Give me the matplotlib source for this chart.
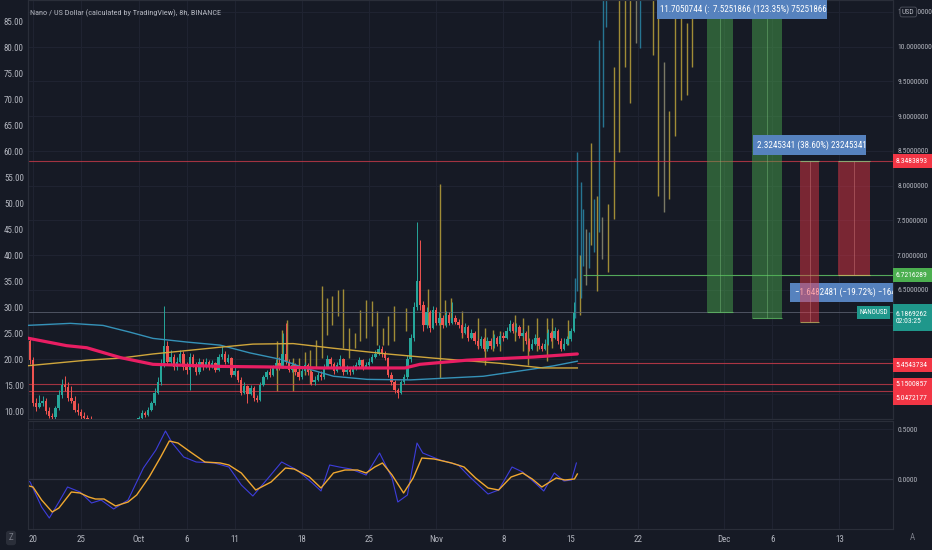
import numpy as np
import matplotlib
matplotlib.use('Agg')
import matplotlib.pyplot as plt
from matplotlib import font_manager
from matplotlib.font_manager import FontProperties
from matplotlib.patches import Rectangle

names = {f.name for f in font_manager.fontManager.ttflist}
main_font = 'DejaVu Sans'
for cand in ['Liberation Sans Narrow', 'Roboto Condensed', 'Open Sans Condensed', 'Liberation Sans']:
    if cand in names:
        main_font = cand
        break
plt.rcParams['font.family'] = [main_font, 'DejaVu Sans']

bg = '#161a25'
txt = '#b2b5be'
gridc = '#1f2331'
up = '#26a69a'
down = '#ef5350'

# 8h candles, left price scale (days counted from Sep 20)
first_day = -0.67
open0 = 21.5
closes = [23.5, 19.8, 11.5, 10.8, 11.5, 11.9, 10.0, 9.0, 8.8, 10.5,
          13.0, 15.0, 14.6, 12.5, 12.0, 10.2, 9.8, 9.0, 8.6, 8.0,
          7.8, 7.2, 7.5, 6.9, 7.1, 6.6, 6.8, 7.3, 7.0, 6.5,
          6.8, 7.2, 7.6, 7.4, 8.0, 8.6, 9.6, 9.2, 10.2, 11.5,
          13.5, 15.5, 19.0, 22.5, 19.5, 20.5, 18.5, 19.5, 21.0, 18.5,
          18.0, 20.5, 19.0, 17.5, 19.5, 18.5, 19.5, 18.5, 19.2, 18.0,
          20.5, 21.0, 19.5, 20.2, 17.0, 17.8, 16.0, 13.5, 14.8, 13.2,
          14.5, 12.5, 12.2, 15.0, 16.5, 17.5, 17.0, 18.2, 19.2, 18.5,
          21.0, 19.5, 18.0, 18.8, 17.5, 16.5, 17.8, 18.8, 17.5, 15.5,
          16.0, 17.0, 16.5, 18.5, 20.0, 19.0, 17.8, 18.8, 20.0, 17.5,
          18.0, 17.5, 18.2, 18.8, 19.8, 18.5, 18.8, 19.5, 20.5, 21.0,
          22.0, 21.0, 20.2, 17.0, 15.5, 14.0, 13.5, 15.5, 16.5, 20.0,
          24.0, 30.0, 35.0, 30.5, 26.5, 29.0, 26.0, 29.5, 27.0, 28.0,
          26.5, 28.5, 27.0, 28.0, 27.2, 26.5, 25.0, 26.2, 24.0, 25.0,
          23.5, 22.5, 23.8, 22.0, 23.5, 22.5, 24.0, 23.0, 24.5, 24.0,
          25.5, 26.8, 25.5, 26.2, 24.5, 25.0, 23.5, 22.0, 23.0, 24.0,
          22.5, 22.0, 23.0, 25.0, 24.0, 25.5, 23.5, 22.0, 23.0, 23.8,
          25.5, 28.8]
highs = [24.5, 24.0, 20.5, 12.5, 13.0, 12.8, 12.5, 10.8, 9.6, 11.0,
         14.0, 16.2, 16.8, 15.5, 14.8, 12.8, 11.5, 10.4, 9.8, 9.2,
         9.0, 8.2, 8.0, 7.8, 7.6, 7.4, 7.2, 7.8, 7.6, 7.3,
         7.1, 7.6, 8.0, 8.1, 8.5, 9.0, 10.2, 10.0, 10.8, 12.0,
         14.5, 16.5, 20.0, 30.2, 23.5, 21.8, 21.0, 20.5, 21.8, 21.5,
         19.5, 21.2, 21.0, 19.5, 20.2, 20.0, 20.2, 19.8, 19.8, 19.5,
         21.0, 22.5, 21.5, 21.0, 20.5, 18.5, 18.0, 16.5, 15.5, 15.0,
         15.0, 14.8, 13.0, 15.5, 17.0, 18.0, 18.2, 18.8, 20.0, 20.5,
         25.0, 27.0, 20.0, 19.5, 19.2, 18.0, 18.2, 19.5, 19.2, 18.0,
         16.8, 17.5, 17.8, 19.0, 20.8, 20.5, 19.5, 19.5, 20.8, 20.2,
         18.8, 18.5, 18.8, 19.5, 20.5, 20.0, 19.5, 20.2, 21.0, 21.8,
         22.8, 22.5, 21.5, 20.5, 17.5, 16.0, 14.5, 16.0, 17.2, 20.8,
         24.8, 31.0, 46.5, 43.0, 31.2, 30.0, 29.5, 30.2, 30.0, 29.0,
         28.5, 29.2, 29.0, 31.0, 28.5, 27.8, 27.0, 27.0, 26.5, 25.8,
         25.5, 24.0, 24.5, 24.2, 24.2, 24.0, 24.8, 24.5, 25.0, 25.2,
         26.2, 27.5, 27.2, 27.0, 26.5, 25.8, 25.5, 24.0, 23.8, 24.8,
         24.2, 23.2, 23.8, 25.8, 25.5, 26.2, 25.8, 24.0, 24.0, 24.5,
         26.0, 31.0]
lows = [21.0, 19.0, 11.0, 10.0, 10.5, 11.0, 9.5, 8.6, 8.2, 8.5,
        10.2, 12.6, 13.8, 12.0, 11.5, 9.8, 9.2, 8.5, 8.0, 7.5,
        7.3, 6.8, 6.9, 6.5, 6.5, 6.2, 6.3, 6.6, 6.7, 6.2,
        6.3, 6.6, 7.0, 7.1, 7.2, 7.8, 8.4, 8.8, 9.0, 10.0,
        11.2, 13.2, 15.0, 18.5, 18.8, 19.0, 18.0, 18.0, 19.2, 18.0,
        17.2, 14.0, 18.5, 17.0, 17.2, 18.0, 18.2, 18.0, 18.2, 17.5,
        17.8, 20.0, 19.0, 19.2, 16.5, 16.8, 15.5, 13.0, 13.2, 11.5,
        13.0, 12.0, 11.8, 12.0, 14.8, 16.2, 16.5, 16.8, 18.0, 18.0,
        18.2, 19.0, 17.5, 17.5, 17.0, 16.0, 16.2, 17.5, 17.0, 15.0,
        15.0, 15.8, 16.0, 16.2, 18.2, 18.5, 17.2, 17.5, 18.5, 17.0,
        17.2, 17.0, 17.2, 18.0, 18.5, 18.0, 18.2, 18.5, 19.2, 20.2,
        20.8, 20.5, 19.8, 16.5, 15.0, 13.5, 12.5, 13.2, 15.2, 16.2,
        19.5, 23.5, 29.5, 29.5, 25.5, 26.0, 25.2, 25.8, 26.5, 26.5,
        26.0, 26.2, 26.5, 26.8, 26.8, 26.0, 24.5, 24.8, 23.5, 23.8,
        23.0, 22.0, 22.2, 21.5, 21.5, 22.0, 22.2, 22.5, 22.8, 23.5,
        23.8, 25.2, 25.0, 25.2, 24.0, 24.2, 23.0, 21.5, 21.8, 22.8,
        22.0, 21.5, 21.8, 22.8, 23.5, 23.8, 23.0, 21.5, 21.8, 22.8,
        23.5, 25.2]

# overlay bars on the right scale
ov_day = [25.4, 25.9, 26.5, 27.1, 27.7, 28.3, 28.9, 29.5, 30.1, 30.6,
          31.1, 31.8, 32.3, 32.9, 33.5, 34.1, 34.7, 35.3, 35.8, 36.5,
          37.0, 37.6, 38.9, 41.1, 42.4, 42.9, 43.5, 44.7, 46.4, 47.1,
          47.9, 48.6, 50.2, 51.0, 51.6, 52.5, 53.5, 54.1, 55.7,
          56.5, 56.7, 57.0, 57.1, 57.3, 57.6, 57.9, 58.1, 58.4, 58.75,
          59.0, 59.3, 59.4, 59.7, 59.9, 60.5, 61.0, 61.7, 62.2, 62.8,
          63.2, 64.6, 65.1, 65.7, 66.25, 66.9, 67.5, 68.1, 68.6]
ov_lo = [5.05, 5.38, 5.48, 5.05, 5.27, 5.28, 5.14, 5.38, 5.52, 5.85,
         6.00, 6.12, 5.67, 5.52, 5.67, 5.77, 5.81, 5.98, 5.71, 5.71,
         5.71, 5.77, 5.91, 6.00, 5.24, 6.00, 6.07, 5.81, 5.67, 5.42,
         5.62, 5.62, 5.77, 5.62, 5.42, 5.62, 5.48, 5.67, 5.71,
         6.10, 6.48, 6.14, 6.38, 6.85, 6.57, 6.81, 7.14, 7.05, 6.48,
         7.33, 6.95, 8.85, 10.28, 6.76, 7.52, 8.48, 9.71, 9.19, 10.05,
         9.98, 9.88, 7.85, 7.62, 7.81, 8.71, 9.24, 9.31, 9.71]
ov_hi = [5.77, 5.92, 6.07, 5.52, 5.52, 5.60, 5.64, 5.78, 6.55, 6.38,
         6.41, 6.50, 6.52, 5.95, 5.88, 6.21, 6.35, 6.34, 6.20, 5.95,
         6.12, 6.27, 6.24, 6.52, 8.02, 6.35, 6.38, 6.20, 6.10, 5.95,
         5.92, 5.91, 6.14, 6.10, 6.00, 6.10, 6.10, 6.10, 6.07,
         6.67, 8.48, 7.00, 8.05, 7.67, 7.38, 7.33, 8.62, 7.81, 7.85,
         10.1, 7.55, 10.8, 10.8, 7.74, 9.71, 10.8, 10.8, 10.8, 10.8,
         10.8, 10.8, 10.8, 9.78, 9.07, 10.8, 10.8, 10.34, 10.8]
ov_kind = ['y'] * 39 + ['t', 't', 'y', 't', 't', 'g', 't', 'y', 't', 'y',
                        't', 'g', 't', 't', 'y', 'y', 'y', 'y', 'y', 'g',
                        't', 'y', 'y', 'g', 'y', 'y', 'y', 'y', 'y']

# moving averages (left scale)
blue_ma_day = [-0.7, 3.9, 7.3, 10.1, 12.5, 16.0, 19.5, 22.6, 25.7, 27.8, 31.3, 34.8, 39.3, 46.9, 52.1, 54.2, 56.7]
blue_ma = [26.5, 26.9, 26.5, 25.2, 24.0, 23.3, 22.7, 21.2, 20.0, 18.6, 16.7, 16.1, 16.0, 16.7, 18.1, 18.7, 19.6]
yellow_ma_day = [-0.7, 5.6, 9.1, 12.5, 19.5, 22.9, 27.1, 31.3, 36.9, 41.7, 48.6, 53.1, 56.7]
yellow_ma = [18.7, 19.8, 20.2, 21.0, 22.3, 22.9, 23.0, 22.1, 21.0, 20.2, 19.2, 18.3, 18.3]
pink_ma_day = [-0.7, 3.5, 5.6, 9.1, 12.5, 19.5, 24.4, 29.9, 38.75, 40.3, 45.2, 52.1, 56.7]
pink_ma = [24.1, 22.6, 22.2, 20.3, 19.0, 18.6, 18.5, 18.3, 18.3, 19.0, 19.8, 20.4, 21.0]

# oscillator pane
osc_o_day = [-0.8, 0.0, 0.9, 2.0, 2.7, 4.0, 4.9, 5.8, 6.5, 7.4, 8.6, 9.9, 10.8, 12.1, 13.3, 14.2,
             15.1, 16.4, 17.9, 19.5, 20.4, 21.7, 23.2, 24.8, 26.3, 27.2, 28.8, 30.0, 31.3, 32.5,
             33.8, 34.7, 35.6, 36.4, 37.4, 38.6, 39.6, 40.5, 41.8, 43.6, 44.9, 46.1, 47.4, 48.5,
             49.8, 51.0, 52.0, 53.0, 54.5, 55.4, 56.4, 56.7]
osc_o = [-0.06, -0.08, -0.21, -0.33, -0.29, -0.13, -0.14, -0.18, -0.20, -0.20, -0.27, -0.23, -0.16,
         0.02, 0.22, 0.38, 0.36, 0.27, 0.17, 0.16, 0.14, 0.06, -0.11, -0.03, 0.11, 0.10, 0.02, -0.09,
         0.06, 0.09, 0.09, 0.06, 0.12, 0.16, 0.04, -0.14, 0.01, 0.21, 0.20, 0.16, 0.12, 0.01, -0.09,
         -0.11, 0.02, 0.06, 0.00, -0.08, 0.01, -0.01, 0.00, 0.05]
osc_b_day = [-0.8, -0.3, 0.9, 1.7, 2.7, 3.6, 4.9, 6.1, 7.1, 8.4, 9.9, 11.5, 12.8, 13.8, 14.5, 15.7,
             17.0, 18.9, 20.4, 21.7, 22.9, 24.5, 25.9, 27.5, 29.1, 30.0, 30.9, 31.9, 33.1, 34.7,
             36.1, 37.4, 38.0, 39.0, 40.0, 40.6, 42.4, 44.3, 45.5, 47.4, 48.5, 49.9, 51.0, 52.3,
             53.2, 54.3, 55.3, 56.1, 56.6]
osc_b = [0.00, -0.03, -0.28, -0.39, -0.23, -0.08, -0.13, -0.24, -0.21, -0.30, -0.21, 0.11, 0.29,
         0.48, 0.36, 0.22, 0.17, 0.16, 0.12, -0.06, -0.17, 0.01, 0.17, 0.09, -0.04, -0.12, 0.14,
         0.12, 0.10, 0.04, 0.26, 0.01, -0.23, -0.16, 0.36, 0.26, 0.19, 0.14, 0.02, -0.15, -0.11,
         0.12, 0.07, -0.04, -0.12, 0.06, -0.02, -0.01, 0.16]

tick_days = [0, 5, 11, 16, 21, 28, 35, 42, 49, 56, 63, 72, 77, 84]
tick_labels = ['20', '25', 'Oct', '6', '11', '18', '25', 'Nov', '8', '15', '22', 'Dec', '6', '13']

# right scale: grid at every 0.5, labels only where the tags leave room
right_ticks = [5.0, 5.5, 6.0, 6.5, 7.0, 7.5, 8.0, 8.5, 9.0, 9.5, 10.0, 10.5]
right_hidden = [5.0, 5.5, 6.0]

# levels on right scale
red_levels = [8.3483893, 5.1500857, 5.0472177]
late_red_level = 5.4543734
target_level = 6.7216289
last_price = 6.1869262

W, H = 932, 550
fig = plt.figure(figsize=(W / 100, H / 100), dpi=100, facecolor=bg)
renderer = fig.canvas.get_renderer()


def fit(s, px):
    # font size that makes string s about px pixels wide
    w, _, _ = renderer.get_text_width_height_descent(s, FontProperties(family=[main_font, 'DejaVu Sans'], size=10), False)
    return 10.0 * px / w


def fx(x):
    return x / W


def fy(y):
    return 1 - y / H


fs_left = fit('85.00', 20)
fs_right = fit('10.0000000', 35)
fs_date = fit('Nov', 14)
fs_tag = fit('8.3483893', 32)
fs_pos = fit('2.3245341 (38.60%) 23245341', 108)

ax = fig.add_axes([fx(28), fy(419), fx(893) - fx(28), fy(0) - fy(419)], facecolor=bg)
ax2 = ax.twinx()
ax3 = fig.add_axes([fx(28), fy(529), fx(893) - fx(28), fy(421) - fy(529)], facecolor=bg)

xlim = (-0.52, 89.58)
for a in (ax, ax3):
    a.set_xlim(*xlim)
ax.set_ylim(8.46, 89.24)
ax2.set_ylim(4.643, 10.672)
ax3.set_ylim(-0.50, 0.58)

ax.set_zorder(3)
ax.patch.set_visible(False)
ax2.set_zorder(2)
ax2.patch.set_visible(True)
ax2.patch.set_facecolor(bg)

# grid
for d in tick_days:
    ax2.axvline(d, color=gridc, lw=0.8, zorder=0)
    ax3.axvline(d, color=gridc, lw=0.8, zorder=0)
for v in right_ticks:
    ax2.axhline(v, color=gridc, lw=0.8, zorder=0)
ax3.axhline(0.5, color=gridc, lw=0.8)
ax3.axhline(0.0, color='#2e3240', lw=0.9)

# overlay bars (second series, right scale)
kind_col = {'y': '#b9a13a', 't': '#2a86a6', 'g': '#8d8b72'}
ax2.vlines(ov_day, ov_lo, ov_hi, colors=[kind_col[k] for k in ov_kind], lw=1.0, alpha=0.85, zorder=1)

# levels
for v in red_levels:
    ax2.axhline(v, color='#d23c4b', lw=0.8, alpha=0.75, zorder=2)
ax2.hlines(late_red_level, 56.7, xlim[1], color='#d23c4b', lw=0.8, alpha=0.8, zorder=2)
ax2.hlines(target_level, 57.3, xlim[1], color='#5cb860', lw=0.8, alpha=0.9, zorder=2)
ax2.axhline(last_price, color='#5d6270', lw=0.7, alpha=0.8, zorder=2)

# candles
n = len(closes)
days = first_day + np.arange(n) / 3.0
opens = [open0] + closes[:-1]
cols = [up if c >= o else down for o, c in zip(opens, closes)]
ax.vlines(days, lows, highs, colors=cols, lw=0.7, zorder=3)
ax.bar(days, [max(abs(c - o), 0.15) * (1 if c >= o else -1) for o, c in zip(opens, closes)],
       bottom=opens, width=0.24, color=cols, lw=0, zorder=4)

# moving averages
ax.plot(blue_ma_day, blue_ma, color='#3592b8', lw=1.0, zorder=5)
ax.plot(yellow_ma_day, yellow_ma, color='#cfa63c', lw=1.0, zorder=5)
ax.plot(pink_ma_day, pink_ma, color='#e91e63', lw=2.3, zorder=6, solid_capstyle='round')


def to_left(v):
    # right scale value -> left scale value (both linear on the same pixels)
    r0, r1 = ax2.get_ylim()
    l0, l1 = ax.get_ylim()
    return l0 + (v - r0) * (l1 - l0) / (r1 - r0)


# position tool boxes drawn on the top axes so they cover the candles
green_boxes = [(70.2, 72.9, 6.187, 11.5, 71.6), (74.9, 78.0, 6.097, 11.5, 76.5)]
red_boxes = [(79.9, 81.9, 6.04, 8.3483893, 80.9), (83.85, 87.2, 6.7216, 8.3483893, 85.5)]
for x0, x1, lo, hi, mid in green_boxes:
    lo, hi = to_left(lo), to_left(hi)
    ax.add_patch(Rectangle((x0, lo), x1 - x0, hi - lo, fc='#4caf50', alpha=0.45, ec='none', zorder=7))
    ax.hlines(lo, x0, x1, color='#5fbf63', lw=0.8, alpha=0.8, zorder=7)
    ax.vlines(mid, lo, hi, color='#7cc47f', lw=0.6, alpha=0.5, zorder=7)
for x0, x1, lo, hi, mid in red_boxes:
    lo, hi = to_left(lo), to_left(hi)
    ax.add_patch(Rectangle((x0, lo), x1 - x0, hi - lo, fc='#f23645', alpha=0.45, ec='none', zorder=9))
    ax.hlines(hi, x0, x1, color='#7cc47f', lw=0.8, alpha=0.8, zorder=9)
    ax.hlines(lo, x0, x1, color='#c9b060', lw=0.8, alpha=0.8, zorder=9)
    ax.vlines(mid, lo, hi, color='#d88080', lw=0.6, alpha=0.5, zorder=9)

lab_bg = '#5682be'
ax.add_patch(Rectangle((65.0, to_left(10.40)), 17.7, to_left(10.70) - to_left(10.40), fc=lab_bg, ec='none', zorder=10))
ax.text(65.35, to_left(10.535), '11.7050744 (:', color='white', fontsize=fs_pos, va='center', zorder=11)
ax.add_patch(Rectangle((70.5, to_left(10.40)), 12.2, to_left(10.70) - to_left(10.40), fc=lab_bg, ec='none', zorder=11))
ax.text(70.85, to_left(10.535), '7.5251866 (123.35%) 75251866', color='white', fontsize=fs_pos, va='center', zorder=12)
ax.add_patch(Rectangle((75.0, to_left(8.44)), 11.8, to_left(8.73) - to_left(8.44), fc=lab_bg, ec='none', zorder=10))
ax.text(75.4, to_left(8.585), '2.3245341 (38.60%) 23245341', color='white', fontsize=fs_pos, va='center', zorder=11)
ax.add_patch(Rectangle((78.85, to_left(6.33)), 11.0, to_left(6.60) - to_left(6.33), fc=lab_bg, ec='none', zorder=8))
ax.text(79.4, to_left(6.465), '\u22121.6482481 (\u221219.72%) \u22121648', color='white', fontsize=fs_pos,
        va='center', zorder=8, clip_on=True)

# oscillator
ax3.plot(osc_b_day, osc_b, color='#3d3ddb', lw=0.8)
ax3.plot(osc_o_day, osc_o, color='#f0a830', lw=1.0)

# axes styling
ax.set_yticks(range(10, 90, 5))
ax.set_yticklabels(['%.2f' % v for v in range(10, 90, 5)])
ax.tick_params(axis='y', left=True, right=False, labelleft=True, labelright=False,
               length=0, pad=3, labelsize=fs_left, labelcolor=txt)
ax.set_xticks([])
ax2.set_yticks(right_ticks)
ax2.set_yticklabels(['' if v in right_hidden else '%.7f' % v for v in right_ticks])
ax2.tick_params(axis='y', length=0, pad=3, labelsize=fs_right, labelcolor=txt)
ax3.set_xticks(tick_days)
ax3.set_xticklabels(tick_labels)
ax3.tick_params(axis='x', length=0, pad=4, labelsize=fs_date, labelcolor=txt)
ax3.yaxis.tick_right()
ax3.set_yticks([0.0, 0.5])
ax3.set_yticklabels(['0.0000', '0.5000'])
ax3.tick_params(axis='y', length=0, pad=3, labelsize=fs_right, labelcolor=txt)
for a in (ax, ax2, ax3):
    for s in a.spines.values():
        s.set_color('#2a2e39')
        s.set_linewidth(0.8)

# title and price tags
title = 'Nano / US Dollar (calculated by TradingView), 8h, BINANCE'
fig.text(fx(30), fy(13), title, color=txt, fontsize=fit(title, 192), va='center')


def tag(x0, x1, y0, y1, s, fc, fs=fs_tag):
    fig.patches.append(Rectangle((fx(x0), fy(y1)), fx(x1) - fx(x0), fy(y0) - fy(y1),
                                 transform=fig.transFigure, fc=fc, ec='none', zorder=9))
    fig.text(fx(x0 + 2.5), fy((y0 + y1) / 2), s, color='white', fontsize=fs, va='center', ha='left',
             zorder=10, linespacing=1.35)


tag(893, 932, 154, 168, '8.3483893', '#f23645')
tag(893, 932, 268, 282, '6.7216289', '#4caf50')
tag(893, 932, 304, 331, '6.1869262\n02:03:25', '#1f978b')
tag(857, 890, 306, 319, 'NANOUSD', '#1f978b', fs=fit('NANOUSD', 29))
tag(893, 932, 358, 372, '5.4543734', '#f23645')
tag(893, 932, 378, 391, '5.1500857', '#f23645')
tag(893, 932, 391, 405, '5.0472177', '#f23645')
fig.text(fx(902), fy(12), 'USD', color=txt, fontsize=fs_tag, va='center', zorder=10,
         bbox=dict(boxstyle='round,pad=0.25', fc=bg, ec='#50535e', lw=0.6))
fig.text(fx(11), fy(538), 'Z', color='#787b86', fontsize=fs_date, va='center', ha='center', zorder=10,
         bbox=dict(boxstyle='round,pad=0.3', fc='#2a2e39', ec='none'))
fig.text(fx(912), fy(538), 'A', color='#787b86', fontsize=fs_date, va='center', ha='center', zorder=10)

fig.savefig('out.png', dpi=100, facecolor=bg)
